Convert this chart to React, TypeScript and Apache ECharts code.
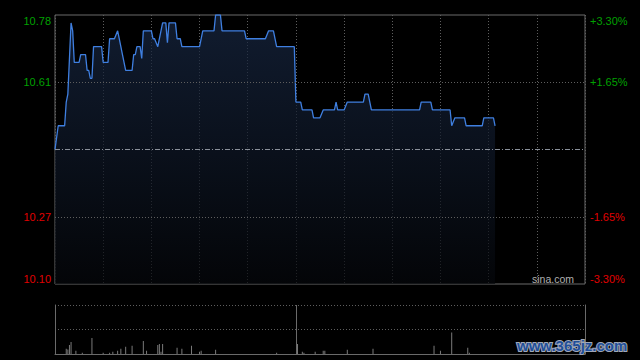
import React, { useEffect, useRef } from "react";
import * as echarts from "echarts";

// Intraday price (minute index from 09:30, price)
const priceMinutes = [0, 2, 6, 7, 8, 10, 11, 12, 15, 16, 19, 20, 21, 22, 23, 24, 29, 30, 33, 34, 37, 39, 40, 41, 42, 44, 48, 49, 50, 51, 53, 54, 55, 60, 61, 62, 64, 67, 69, 70, 71, 75, 76, 78, 79, 90, 92, 99, 100, 103, 104, 118, 119, 131, 133, 136, 138, 149, 150, 153, 154, 160, 161, 165, 167, 174, 175, 176, 180, 182, 192, 193, 195, 197, 227, 228, 234, 235, 246, 247, 249, 255, 256, 266, 267, 273, 274];
const prices = [10.44, 10.50, 10.50, 10.56, 10.58, 10.76, 10.74, 10.66, 10.66, 10.68, 10.68, 10.64, 10.64, 10.62, 10.62, 10.70, 10.70, 10.66, 10.66, 10.72, 10.72, 10.74, 10.72, 10.70, 10.68, 10.64, 10.64, 10.68, 10.68, 10.70, 10.70, 10.67, 10.74, 10.74, 10.72, 10.72, 10.70, 10.76, 10.76, 10.71, 10.76, 10.76, 10.72, 10.72, 10.70, 10.70, 10.74, 10.74, 10.78, 10.78, 10.74, 10.74, 10.72, 10.72, 10.74, 10.74, 10.70, 10.70, 10.56, 10.56, 10.54, 10.54, 10.52, 10.52, 10.54, 10.54, 10.56, 10.54, 10.54, 10.56, 10.56, 10.58, 10.58, 10.54, 10.54, 10.56, 10.56, 10.54, 10.54, 10.50, 10.52, 10.52, 10.50, 10.50, 10.52, 10.52, 10.50];

// Volume bars (minute index, volume)
const volMinutes = [7, 8, 9, 10, 13, 17, 23, 30, 34, 36, 39, 41, 44, 48, 55, 57, 64, 65, 66, 67, 76, 79, 85, 90, 91, 100, 138, 151, 154, 155, 162, 167, 168, 182, 198, 236, 240, 247, 257, 258];
const volumes = [5.3, 4.6, 9.3, 12.3, 3.3, 1.3, 16.3, 1.3, 1.3, 2.3, 3.3, 5.3, 7.3, 8.3, 13.3, 3.3, 9.3, 10.3, 2.3, 10.3, 6.3, 5.3, 8.3, 2.3, 3.3, 4.3, 1.3, 10.3, 2.3, 1.3, 2.3, 3.3, 3.3, 4.3, 5.3, 8.3, 3.3, 22, 6.3, 1.3];

const prevClose = 10.44;
const priceMin = 10.10;
const priceMax = 10.78;
const priceLabels = [10.10, 10.27, 10.61, 10.78];
const priceGridLines = [10.27, 10.61];
const pctMin = -3.3;
const pctMax = 3.3;
const pctLabels = [-3.3, -1.65, 1.65, 3.3];
const totalMinutes = 330;
const halfHour = 30;
const lunchMinute = 150;

const GREEN = "#00a000";
const RED = "#e00000";
const GRID = "#5e5e5e";
const BORDER = "#6a6a6a";

export default function App() {
  const ref = useRef<HTMLDivElement>(null);
  useEffect(() => {
    if (!ref.current) return;
    const chart = echarts.init(ref.current, null, { renderer: "svg" });
    const priceData = priceMinutes.map((m, i) => [m, prices[i]]);
    const volData = volMinutes.map((m, i) => [m, volumes[i]]);
    const font = "Liberation Sans";
    chart.setOption({
      animation: false,
      backgroundColor: "#000",
      grid: [
        { left: 55, top: 15, width: 530, height: 269, show: true, borderColor: BORDER, borderWidth: 1, containLabel: false },
        { left: 55, top: 305, width: 530, height: 49, show: false, containLabel: false },
      ],
      xAxis: [
        {
          type: "value", gridIndex: 0, min: 0, max: totalMinutes, interval: halfHour,
          axisLine: { show: false }, axisTick: { show: false }, axisLabel: { show: false },
          splitLine: { show: true, lineStyle: { color: GRID, type: [1, 2], width: 1 } },
        },
        {
          type: "value", gridIndex: 1, min: 0, max: totalMinutes, interval: halfHour,
          axisLine: { show: true, onZero: false, lineStyle: { color: BORDER } },
          axisTick: { show: false }, axisLabel: { show: false }, splitLine: { show: false },
        },
      ],
      yAxis: [
        {
          type: "value", gridIndex: 0, min: priceMin, max: priceMax, position: "left",
          axisLine: { show: false }, axisTick: { show: false }, splitLine: { show: false },
          axisLabel: {
            show: true, customValues: priceLabels, margin: 4, fontSize: 11, fontFamily: font,
            color: (v: any) => (Number(v) > prevClose ? GREEN : RED),
            formatter: (v: number) => v.toFixed(2),
            verticalAlignMinLabel: "bottom", verticalAlignMaxLabel: "top",
          },
        },
        {
          type: "value", gridIndex: 0, min: pctMin, max: pctMax, position: "right",
          axisLine: { show: false }, axisTick: { show: false }, splitLine: { show: false },
          axisLabel: {
            show: true, customValues: pctLabels, margin: 5, fontSize: 11, fontFamily: font,
            color: (v: any) => (Number(v) > 0 ? GREEN : RED),
            formatter: (v: number) => (v > 0 ? "+" : "") + v.toFixed(2) + "%",
            verticalAlignMinLabel: "bottom", verticalAlignMaxLabel: "top",
          },
        },
        {
          type: "value", gridIndex: 1, min: 0, max: 50, interval: 25, position: "left",
          axisLine: { show: true, lineStyle: { color: BORDER } }, axisTick: { show: false }, axisLabel: { show: false },
          splitLine: { show: true, lineStyle: { color: GRID, type: [1, 2] } },
        },
        {
          type: "value", gridIndex: 1, min: 0, max: 50, interval: 25, position: "right",
          axisLine: { show: true, lineStyle: { color: BORDER } }, axisTick: { show: false }, axisLabel: { show: false },
          splitLine: { show: false },
        },
      ],
      series: [
        {
          type: "line", xAxisIndex: 0, yAxisIndex: 0, data: priceData, symbol: "none", smooth: false,
          lineStyle: { color: "#3f7fe0", width: 1.3 },
          areaStyle: {
            origin: "start",
            color: new echarts.graphic.LinearGradient(0, 0, 0, 1, [
              { offset: 0, color: "#182844" },
              { offset: 1, color: "#05070b" },
            ]),
          },
          markLine: {
            silent: true, symbol: "none", label: { show: false },
            data: [
              ...priceGridLines.map((v) => ({ yAxis: v, lineStyle: { color: GRID, type: [1, 2], width: 1 } })),
              { yAxis: prevClose, lineStyle: { color: "#8a909a", type: [5, 2, 1, 2], width: 1 } },
            ],
          },
          z: 3,
        },
        {
          type: "bar", xAxisIndex: 1, yAxisIndex: 2, data: volData, barWidth: 1,
          itemStyle: { color: "#7a7a7a" },
          markLine: {
            silent: true, symbol: "none", label: { show: false },
            data: [{ xAxis: lunchMinute, lineStyle: { color: BORDER, type: "solid", width: 1 } }],
          },
        },
      ],
      graphic: [
        {
          type: "text", left: 532, top: 273,
          style: { text: "sina.com", fill: "#b0b0b0", font: `10.5px "${font}"` },
          z: 10,
        },
        {
          type: "text", left: 516, top: 337,
          style: {
            text: "www.365jz.com", fill: "#1f4f9a", stroke: "#a0a8b8", lineWidth: 2,
            font: `bold 15px "Liberation Sans"`,
          },
          z: 10,
        },
      ],
    });
    return () => chart.dispose();
  }, []);
  return <div ref={ref} style={{ position: "absolute", left: 0, top: 0, width: 640, height: 360 }} />;
}
